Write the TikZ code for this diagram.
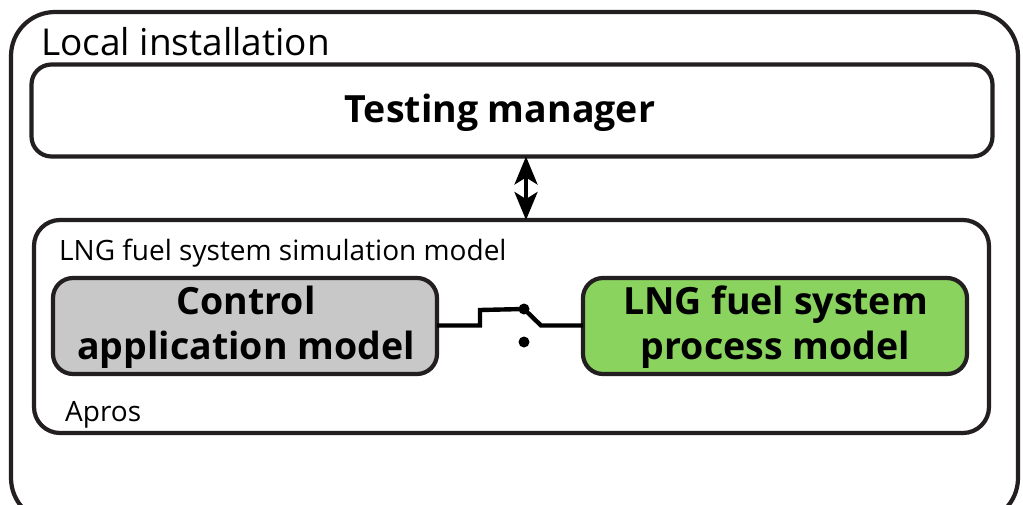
\documentclass[tikz,border=0pt]{standalone}
\usepackage{fontspec}
\setmainfont{Open Sans}
\usetikzlibrary{arrows.meta}
\definecolor{edge}{HTML}{231F20}
\definecolor{greybox}{HTML}{C8C8C8}
\definecolor{greenbox}{HTML}{8AD35F}
\tikzset{
 x=1pt,y=-1pt,
 panel/.style={draw=edge,line width=4.2pt,rounded corners=#1,fill=white},
 blockbox/.style={draw=edge,line width=4.2pt,rounded corners=20pt,inner sep=0pt,outer sep=0pt,anchor=north west},
 boxtext/.style={font=\bfseries\fontsize{37.5}{46}\selectfont,align=center,text=black,inner sep=0pt},
 plain/.style={inner sep=0pt,anchor=base west,text=black},
 wire/.style={draw=black,line width=4.4pt,line join=miter},
 contact/.style={circle,fill=black,inner sep=0pt,minimum size=11pt},
}
\begin{document}
\begin{tikzpicture}
\useasboundingbox (0,0) rectangle (1023,504);
\clip (0,0) rectangle (1023,504);
\fill[white] (0,0) rectangle (1023,504);
\draw[panel=44pt] (11,12) rectangle (1018,522);
\node[plain,font=\fontsize{37}{44}\selectfont] (local) at (41,55) {Local installation};
\node[blockbox,minimum width=961pt,minimum height=92pt] (tm) at (31.5,64.5) {};
\node[boxtext] (tmt) at (500,113) {Testing manager};
\node[blockbox,rounded corners=26pt,minimum width=955pt,minimum height=213pt] (sim) at (34,220) {};
\node[plain,font=\fontsize{28}{34}\selectfont] (simt) at (59,260) {LNG fuel system simulation model};
\node[blockbox,fill=greybox,minimum width=384pt,minimum height=96pt] (ctrl) at (53,278) {};
\node[boxtext] (ctrlt) at (246,327) {Control\\[-1pt]application model};
\node[blockbox,fill=greenbox,minimum width=384pt,minimum height=96pt] (lng) at (583,278) {};
\node[boxtext] (lngt) at (775.5,327) {LNG fuel system\\[-1pt]process model};
\node[plain,font=\fontsize{28}{34}\selectfont] (apros) at (65,421) {Apros};
\node[contact] (c1) at (524,309) {};
\node[contact] (c2) at (524,342) {};
\draw[wire] (ctrl.east |- 0,325.5) -- (480,325.5) -- (480,310) -- (c1.center) -- (541,325.5) -- (lng.west |- 0,325.5);
\draw[draw=black,line width=3.5pt,{Stealth[length=28pt,width=23pt,inset=7pt]}-{Stealth[length=28pt,width=23pt,inset=7pt]}] (tm.south -| 526,0) -- (sim.north -| 526,0);
\end{tikzpicture}
\end{document}
